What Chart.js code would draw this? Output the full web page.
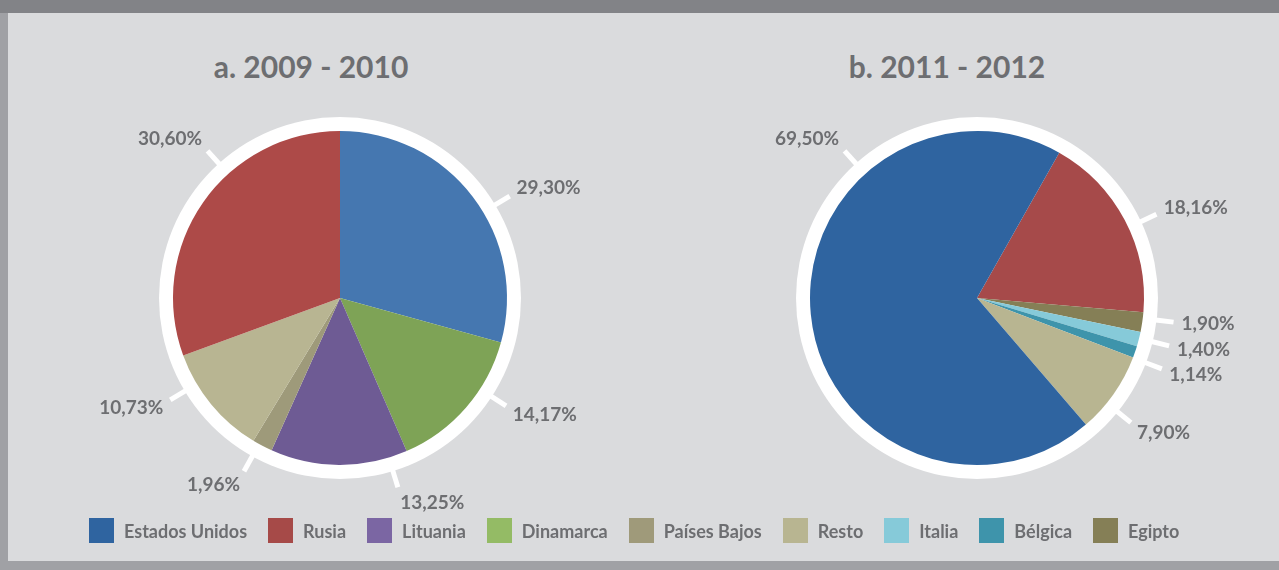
<!DOCTYPE html>
<html>
<head>
<meta charset="utf-8">
<script src="https://cdn.jsdelivr.net/npm/chart.js@4"></script>
<style>
  body { margin: 0; width: 1279px; height: 570px; background: #dadbdd; position: relative; overflow: hidden; font-family: Lato, "Open Sans", sans-serif; }
  .band-top { position: absolute; left: 0; top: 0; width: 1279px; height: 13px; background: #828387; }
  .band-left { position: absolute; left: 0; top: 13px; width: 8px; height: 557px; background: #a0a1a5; }
  .band-bottom { position: absolute; left: 0; top: 561px; width: 1279px; height: 9px; background: #a0a1a5; }
  .title { position: absolute; top: 48px; width: 300px; text-align: center; font-weight: 700; font-size: 30px; line-height: 36px; color: #6d6e71; }
  canvas { position: absolute; }
  #legend { position: absolute; left: 89px; top: 518px; height: 25px; display: flex; align-items: center; }
  .item { display: flex; align-items: center; margin-right: 21px; }
  .swatch { width: 25px; height: 25px; margin-right: 10px; }
  .item span { font-weight: 700; font-size: 18px; color: #6d6e71; }
</style>
</head>
<body>
<div class="band-top"></div>
<div class="band-left"></div>
<div class="band-bottom"></div>
<div class="title" style="left:161px">a. 2009 - 2010</div>
<div class="title" style="left:797px">b. 2011 - 2012</div>
<canvas id="pieA" width="600" height="440" style="left:40px; top:90px"></canvas>
<canvas id="pieB" width="600" height="440" style="left:677px; top:90px"></canvas>
<div id="legend"></div>
<script>
// legend categories and their colours
const categories = ['Estados Unidos', 'Rusia', 'Lituania', 'Dinamarca', 'Países Bajos', 'Resto', 'Italia', 'Bélgica', 'Egipto'];
const legendColors = ['#2f64a0', '#a64a48', '#7b66a3', '#94bb65', '#9f9a7a', '#b8b591', '#86cad9', '#3e94ab', '#857f56'];

// a. 2009 - 2010 (clockwise from the top)
const labelsA = ['Estados Unidos', 'Dinamarca', 'Lituania', 'Países Bajos', 'Resto', 'Rusia'];
const valuesA = [29.30, 14.17, 13.25, 1.96, 10.73, 30.60];
const colorsA = ['#4577b0', '#7ea356', '#6e5b94', '#9e9a7a', '#b8b592', '#ad4a48'];

// b. 2011 - 2012 (clockwise, starting after the big blue slice)
const labelsB = ['Rusia', 'Egipto', 'Italia', 'Bélgica', 'Resto', 'Estados Unidos'];
const valuesB = [18.16, 1.90, 1.40, 1.14, 7.90, 69.50];
const colorsB = ['#a64a4a', '#857f56', '#86cad9', '#3e94ab', '#b8b591', '#2f64a0'];

function fmt(v) {
    return v.toFixed(2).replace('.', ',') + '%';
}

// white ring behind the pie, plus white ticks and value labels outside it
const ringLabels = {
    id: 'ringLabels',
    beforeDatasetsDraw(chart) {
        const arc = chart.getDatasetMeta(0).data[0];
        if (!arc) return;
        const ctx = chart.ctx;
        ctx.save();
        ctx.fillStyle = '#ffffff';
        ctx.beginPath();
        ctx.arc(arc.x, arc.y, arc.outerRadius + 14, 0, Math.PI * 2);
        ctx.fill();
        ctx.restore();
    },
    afterDatasetsDraw(chart, args, opts) {
        const ctx = chart.ctx;
        const meta = chart.getDatasetMeta(0);
        const values = chart.data.datasets[0].data;
        ctx.save();
        ctx.font = 'bold 19px Lato, "Open Sans", sans-serif';
        ctx.textBaseline = 'middle';
        meta.data.forEach(function(arc, i) {
            let ang = (arc.startAngle + arc.endAngle) / 2;
            if (opts.angles && opts.angles[i] != null) {
                ang = (opts.angles[i] - 90) * Math.PI / 180;
            }
            const dx = Math.cos(ang), dy = Math.sin(ang);
            const r0 = arc.outerRadius + 13, r1 = arc.outerRadius + 31;
            ctx.strokeStyle = '#ffffff';
            ctx.lineWidth = 5;
            ctx.beginPath();
            ctx.moveTo(arc.x + dx * r0, arc.y + dy * r0);
            ctx.lineTo(arc.x + dx * r1, arc.y + dy * r1);
            ctx.stroke();

            const text = fmt(values[i]);
            const w = ctx.measureText(text).width;
            const qx = arc.x + dx * (r1 + 8), qy = arc.y + dy * (r1 + 8);
            let cx = qx;
            if (dx > 0.15) cx = qx + w / 2;
            else if (dx < -0.15) cx = qx - w / 2;
            const cy = qy + dy * 8;
            ctx.fillStyle = '#6d6e71';
            ctx.textAlign = 'center';
            ctx.fillText(text, cx, cy);
        });
        ctx.restore();
    }
};

function makePie(id, labels, values, colors, rotation, angles) {
    const ctx = document.getElementById(id).getContext('2d');
    return new Chart(ctx, {
        type: 'pie',
        data: {
            labels: labels,
            datasets: [{
                data: values,
                backgroundColor: colors,
                borderWidth: 0,
                hoverOffset: 0
            }]
        },
        options: {
            responsive: false,
            animation: false,
            rotation: rotation,
            layout: { padding: { left: 133, right: 133, top: 41, bottom: 65 } },
            events: [],
            plugins: {
                legend: { display: false },
                tooltip: { enabled: false },
                ringLabels: { angles: angles }
            }
        },
        plugins: [ringLabels]
    });
}

makePie('pieA', labelsA, valuesA, colorsA, 0, [59, 123, 163, 209, 239, 318]);
makePie('pieB', labelsB, valuesB, colorsB, 29.5, [65, 97, 104, 111, 129, 318]);

// html legend shared by both pies
const legend = document.getElementById('legend');
categories.forEach(function(name, i) {
    const item = document.createElement('div');
    item.className = 'item';
    const sw = document.createElement('div');
    sw.className = 'swatch';
    sw.style.background = legendColors[i];
    const label = document.createElement('span');
    label.textContent = name;
    item.appendChild(sw);
    item.appendChild(label);
    legend.appendChild(item);
});
</script>
</body>
</html>
